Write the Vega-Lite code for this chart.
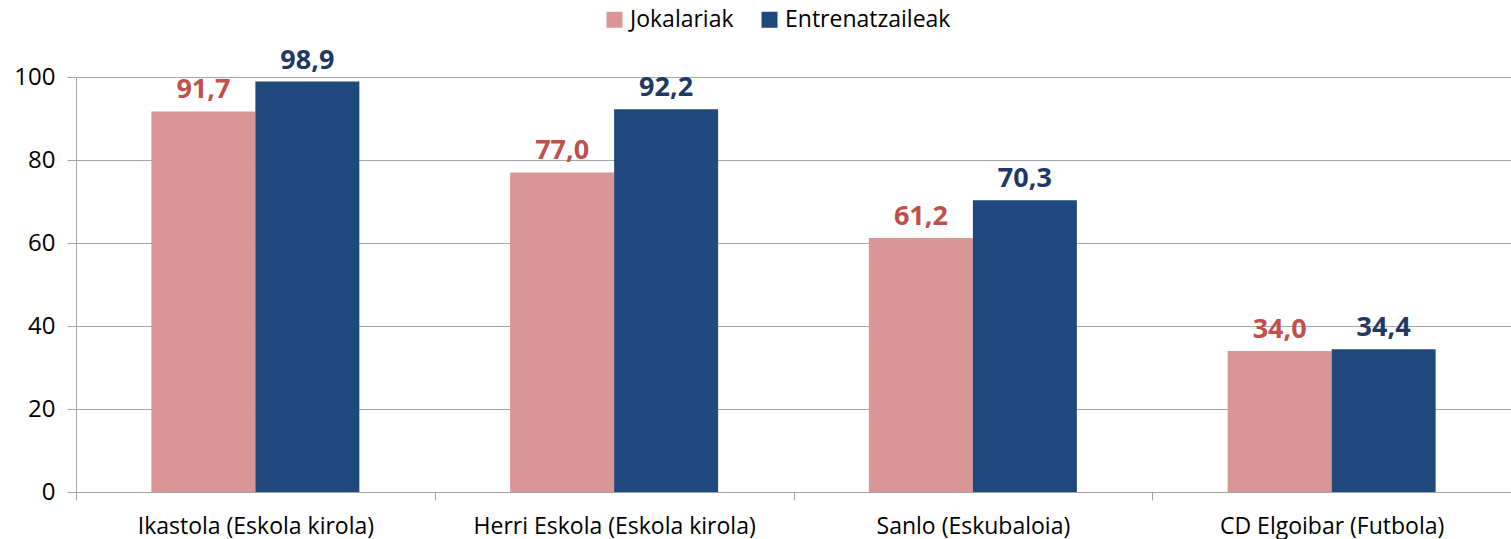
{
  "$schema": "https://vega.github.io/schema/vega-lite/v6.json",
  "width": 1435,
  "height": 415,
  "autosize": {"type": "none"},
  "padding": {"left": 76, "top": 77, "right": 0, "bottom": 47},
  "background": "white",
  "config": {
    "view": {"stroke": null},
    "font": "Open Sans"
  },
  "data": {
    "values": [
      {"category": "Ikastola (Eskola kirola)", "series": "Jokalariak", "value": 91.7, "label": "91,7"},
      {"category": "Ikastola (Eskola kirola)", "series": "Entrenatzaileak", "value": 98.9, "label": "98,9"},
      {"category": "Herri Eskola (Eskola kirola)", "series": "Jokalariak", "value": 77.0, "label": "77,0"},
      {"category": "Herri Eskola (Eskola kirola)", "series": "Entrenatzaileak", "value": 92.2, "label": "92,2"},
      {"category": "Sanlo (Eskubaloia)", "series": "Jokalariak", "value": 61.2, "label": "61,2"},
      {"category": "Sanlo (Eskubaloia)", "series": "Entrenatzaileak", "value": 70.3, "label": "70,3"},
      {"category": "CD Elgoibar (Futbola)", "series": "Jokalariak", "value": 34.0, "label": "34,0"},
      {"category": "CD Elgoibar (Futbola)", "series": "Entrenatzaileak", "value": 34.4, "label": "34,4"}
    ]
  },
  "encoding": {
    "x": {
      "field": "category",
      "type": "nominal",
      "sort": null,
      "scale": {"paddingInner": 0, "paddingOuter": 0},
      "axis": {
        "title": null,
        "labelAngle": 0,
        "labelFontSize": 23,
        "labelLimit": 0,
        "labelColor": "#000000",
        "labelPadding": 15,
        "tickBand": "extent",
        "tickSize": 8,
        "tickColor": "#A6A6A6",
        "domainColor": "#A6A6A6",
        "grid": false
      }
    },
    "xOffset": {
      "field": "series",
      "type": "nominal",
      "sort": ["Jokalariak", "Entrenatzaileak"],
      "scale": {"paddingInner": 0, "paddingOuter": 0.725}
    },
    "y": {
      "field": "value",
      "type": "quantitative",
      "scale": {"domain": [0, 100], "nice": false},
      "axis": {
        "title": null,
        "values": [0, 20, 40, 60, 80, 100],
        "labelFontSize": 24,
        "labelColor": "#000000",
        "labelPadding": 12,
        "tickSize": 9,
        "tickColor": "#A6A6A6",
        "domainColor": "#A6A6A6",
        "gridColor": "#A6A6A6",
        "grid": true
      }
    }
  },
  "layer": [
    {
      "mark": {"type": "bar"},
      "encoding": {
        "color": {
          "field": "series",
          "type": "nominal",
          "sort": ["Jokalariak", "Entrenatzaileak"],
          "scale": {"domain": ["Jokalariak", "Entrenatzaileak"], "range": ["#D99694", "#1F497D"]},
          "legend": {
            "title": null,
            "orient": "none",
            "direction": "horizontal",
            "legendX": 527,
            "legendY": -69,
            "symbolType": "square",
            "symbolSize": 256,
            "symbolStrokeWidth": 0,
            "labelFontSize": 23,
            "labelLimit": 0,
            "labelColor": "#000000",
            "labelOffset": 4,
            "columnPadding": 24
          }
        }
      }
    },
    {
      "mark": {"type": "text", "baseline": "bottom", "dy": -7, "fontSize": 27, "fontWeight": "bold"},
      "encoding": {
        "text": {"field": "label"},
        "color": {
          "field": "series",
          "type": "nominal",
          "scale": {"domain": ["Jokalariak", "Entrenatzaileak"], "range": ["#C0504D", "#1F3864"]},
          "legend": null
        }
      }
    }
  ],
  "resolve": {"scale": {"color": "independent"}}
}
